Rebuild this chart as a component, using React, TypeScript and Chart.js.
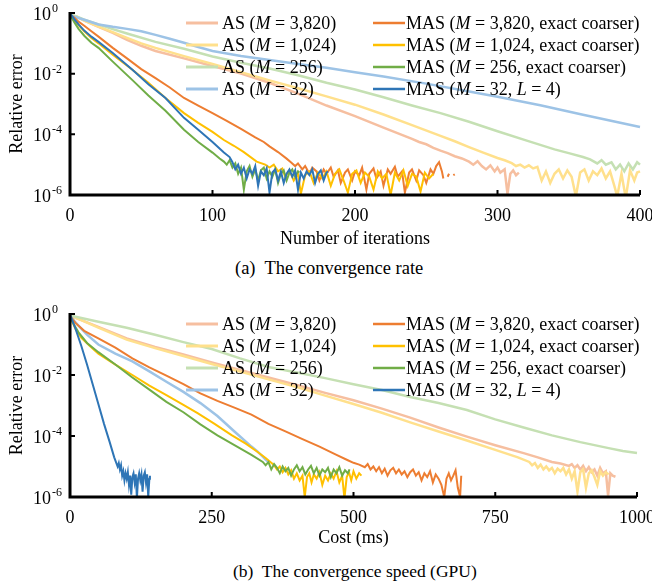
import React, { useEffect, useRef } from "react";
import { Chart, registerables } from "chart.js";

Chart.register(...registerables);

type Pt = [number, number | null];

const FONT = '"Liberation Serif", "Times New Roman", serif';

// Series names, AS column first then MAS column
const seriesLabels = [
  "AS (M = 3,820)",
  "AS (M = 1,024)",
  "AS (M = 256)",
  "AS (M = 32)",
  "MAS (M = 3,820, exact coarser)",
  "MAS (M = 1,024, exact coarser)",
  "MAS (M = 256, exact coarser)",
  "MAS (M = 32, L = 4)",
];
const seriesColors = ["#F6BFA0", "#FFE08C", "#C5E0B3", "#9DC3E6", "#ED7D31", "#FFC000", "#70AD47", "#2E75B6"];

const iterTicks = [0, 100, 200, 300, 400];
const costTicks = [0, 250, 500, 750, 1000];
const yTickValues = [1, 1e-2, 1e-4, 1e-6];
const yTickExponents = ["0", "-2", "-4", "-6"];

// ---- (a) relative error vs. number of iterations ----
const itAS3820: Pt[] = [[0,0.89],[5,0.74],[10,0.56],[20,0.35],[30,0.22],[40,0.13],[50,8.3e-2],[60,5.6e-2],[80,3.2e-2],[100,1.8e-2],[120,1.0e-2],[140,5.0e-3],[160,2.2e-3],[180,8.9e-4],[200,4.0e-4],[220,1.66e-4],[240,7.1e-5],[245,5.6e-5],[250,4.7e-5],[255,3.6e-5],[260,2.9e-5],[265,2.4e-5],[270,1.9e-5],[275,1.6e-5],[280,1.26e-5],[283,1.0e-5],[286,1.3e-5],[289,9e-6],[292,7e-6],[295,9.5e-6],[298,6e-6],[300,8e-6],[302,5.5e-6],[305,7e-6],[307,1.1e-6],[309,5e-6],[311,6.5e-6],[313,4.5e-6],[315,5.5e-6]];
const itAS1024: Pt[] = [[0,0.89],[5,0.74],[10,0.56],[20,0.355],[30,0.234],[40,0.151],[50,0.1],[60,7.1e-2],[80,3.8e-2],[100,2.1e-2],[120,1.12e-2],[140,6.0e-3],[160,3.3e-3],[180,1.78e-3],[200,9.5e-4],[220,4.5e-4],[240,2.0e-4],[260,8.9e-5],[270,5.9e-5],[280,3.8e-5],[290,2.5e-5],[300,1.66e-5],[305,1.4e-5],[310,1.12e-5],[313,9e-6],[316,1.0e-5],[319,8e-6],[322,9.5e-6],[325,7.5e-6],[328,8.5e-6],[331,3e-6],[334,6e-6],[337,2.5e-6],[340,5e-6],[343,7e-6],[346,3.5e-6],[349,6.5e-6],[352,4e-6],[355,9e-7],[358,5.5e-6],[361,7e-6],[364,3e-6],[367,6e-6],[370,4.5e-6],[373,7.5e-6],[376,3.5e-6],[379,6e-6],[382,2e-6],[384,9e-7],[387,5e-6],[390,8e-7],[393,6.5e-6],[396,3e-6],[398,5.5e-6],[400,6e-6]];
const itAS256: Pt[] = [[0,0.89],[5,0.76],[10,0.6],[20,0.42],[30,0.295],[40,0.21],[60,0.112],[80,6.6e-2],[100,3.7e-2],[120,2.3e-2],[140,1.48e-2],[160,8.9e-3],[180,5.0e-3],[200,3.0e-3],[220,1.66e-3],[240,8.9e-4],[260,5.0e-4],[280,2.6e-4],[300,1.26e-4],[320,6.3e-5],[340,3.2e-5],[350,2.4e-5],[360,1.78e-5],[365,1.5e-5],[370,1.1e-5],[373,1.4e-5],[376,1.0e-5],[380,1.2e-5],[383,7e-6],[386,1.0e-5],[389,6e-6],[392,1.1e-5],[395,7e-6],[398,1.2e-5],[400,1.0e-5]];
const itAS32: Pt[] = [[0,0.83],[10,0.6],[20,0.42],[30,0.35],[40,0.3],[50,0.25],[60,0.19],[70,0.141],[80,0.105],[90,7.6e-2],[100,5.6e-2],[110,4.6e-2],[120,3.8e-2],[140,2.8e-2],[160,2.1e-2],[180,1.58e-2],[200,1.12e-2],[220,8.1e-3],[250,4.7e-3],[280,2.6e-3],[300,1.74e-3],[330,9.1e-4],[360,4.4e-4],[400,1.74e-4]];
const itMAS3820: Pt[] = [[0,0.89],[3,0.71],[6,0.52],[10,0.38],[15,0.25],[20,0.166],[30,7.1e-2],[40,3.2e-2],[50,1.41e-2],[60,7.1e-3],[70,3.5e-3],[80,1.58e-3],[90,8.9e-4],[100,5.0e-4],[110,2.8e-4],[120,1.51e-4],[130,7.9e-5],[136,5.6e-5],[140,4.0e-5],[146,2.6e-5],[152,1.58e-5],[155,1.2e-5],[158,9e-6],[160,1.1e-5],[163,7e-6],[165,9e-6],[168,5e-6],[170,8e-6],[173,6e-6],[175,3e-6],[178,7e-6],[180,5e-6],[183,8e-6],[185,4e-6],[188,6.5e-6],[190,2.5e-6],[193,5.5e-6],[195,7e-6],[198,3e-6],[200,6e-6],[203,4.5e-6],[205,8e-6],[208,1.5e-6],[210,5e-6],[213,7.5e-6],[215,3.5e-6],[218,6e-6],[220,2e-6],[223,7e-6],[225,5e-6],[228,8.5e-6],[230,4e-6],[233,6e-6],[235,1.2e-6],[238,5.5e-6],[240,7e-6],[243,3e-6],[245,6.5e-6],[248,4.5e-6],[250,2.5e-6],[253,7e-6],[255,5e-6],[257,9e-6],[259,1.2e-5],[261,6e-6],[262,3.5e-6],[263,null],[265,4e-6],[266,5e-6],[267,null],[269,4.5e-6],[270,4.8e-6]];
const itMAS1024: Pt[] = [[0,0.89],[3,0.6],[6,0.4],[10,0.25],[15,0.151],[20,0.1],[30,4.2e-2],[44,1.32e-2],[55,5.0e-3],[67,1.58e-3],[80,5.0e-4],[90,2.4e-4],[100,1.2e-4],[108,6.5e-5],[115,4.2e-5],[122,2.6e-5],[131,1.26e-5],[137,1.0e-5],[140,8e-6],[143,1.0e-5],[146,6e-6],[149,7.5e-6],[151,4e-6],[154,6.5e-6],[157,3e-6],[160,5e-6],[162,1.1e-6],[165,4.5e-6],[168,6e-6],[171,2.5e-6],[174,5.5e-6],[177,3.5e-6],[180,6e-6],[183,2e-6],[186,5e-6],[189,7e-6],[192,3e-6],[195,1.2e-6],[198,5e-6],[201,6.5e-6],[204,2.5e-6],[207,5.5e-6],[210,4e-6],[213,1.5e-6],[216,6e-6],[219,3.5e-6],[222,5e-6],[225,1e-6],[228,5.5e-6],[231,3e-6],[234,6.5e-6],[237,2e-6],[240,5e-6],[243,4e-6],[246,1.3e-6],[249,5.5e-6],[252,3.5e-6],[255,5e-6]];
const itMAS256: Pt[] = [[0,0.89],[3,0.5],[6,0.3],[10,0.178],[15,0.105],[20,7.1e-2],[30,2.5e-2],[44,6.0e-3],[55,1.9e-3],[67,6.0e-4],[80,1.41e-4],[90,5.6e-5],[100,2.5e-5],[105,1.6e-5],[108,1.26e-5],[110,1.0e-5],[112,1.4e-5],[114,8e-6],[116,1.1e-5],[118,5e-6],[120,8e-6],[122,1.5e-6],[124,6e-6],[126,9e-6],[128,4e-6],[130,7e-6],[132,3e-6],[134,6.5e-6],[136,8e-6],[138,3.5e-6],[140,6e-6],[142,4e-6],[144,7e-6],[146,2.5e-6],[148,5e-6],[150,6.5e-6],[152,3e-6],[154,5.5e-6],[156,7e-6],[158,4e-6],[160,6e-6],[161,5.5e-6]];
const itMAS32: Pt[] = [[0,1.0],[3,0.63],[6,0.42],[10,0.263],[15,0.166],[20,0.112],[30,4.8e-2],[44,1.32e-2],[55,4.5e-3],[67,1.58e-3],[80,3.5e-4],[90,1.41e-4],[100,5.6e-5],[108,2.5e-5],[112,1.78e-5],[114,1.2e-5],[116,7e-6],[118,1.0e-5],[120,5e-6],[122,8e-6],[124,3.5e-6],[126,7e-6],[128,5e-6],[130,9e-6],[132,2e-6],[134,6e-6],[136,4.5e-6],[138,7.5e-6],[140,1.2e-6],[142,5.5e-6],[144,7e-6],[146,3e-6],[148,6e-6],[150,2.5e-6],[152,5e-6],[154,7e-6],[156,4e-6],[158,6.5e-6],[160,1.5e-6],[162,5.5e-6],[164,3.5e-6],[166,6e-6],[168,4.5e-6],[170,7e-6],[172,2.5e-6],[174,5e-6],[176,6.5e-6],[178,3e-6],[180,5.5e-6],[181,6e-6]];

// ---- (b) relative error vs. GPU cost in ms ----
const msAS3820: Pt[] = [[0,0.89],[20,0.63],[50,0.38],[100,0.158],[150,8.3e-2],[200,4.7e-2],[250,2.6e-2],[300,1.45e-2],[350,8.3e-3],[400,4.7e-3],[450,2.6e-3],[500,1.48e-3],[550,7.9e-4],[600,4.0e-4],[650,1.9e-4],[700,9.5e-5],[750,5.0e-5],[800,2.75e-5],[825,2.0e-5],[850,1.41e-5],[865,1.25e-5],[880,1.05e-5],[885,1.2e-5],[890,9e-6],[895,1.1e-5],[900,8e-6],[905,1.05e-5],[910,7e-6],[915,9.5e-6],[920,6.5e-6],[925,8e-6],[930,5e-6],[935,9e-6],[940,6e-6],[945,7e-6],[949,1.1e-6],[953,6e-6],[957,5e-6],[962,4.6e-6]];
const msAS1024: Pt[] = [[0,0.89],[20,0.63],[50,0.355],[100,0.145],[150,7.6e-2],[200,4.2e-2],[250,2.3e-2],[300,1.29e-2],[350,7.2e-3],[400,4.0e-3],[450,2.1e-3],[500,1.12e-3],[550,5.8e-4],[600,2.8e-4],[650,1.41e-4],[700,7.1e-5],[750,3.5e-5],[790,2.0e-5],[810,1.41e-5],[815,1.1e-5],[820,1.3e-5],[825,9e-6],[830,1.15e-5],[835,8e-6],[840,1.0e-5],[845,7.5e-6],[850,9e-6],[855,6e-6],[860,8.5e-6],[865,7e-6],[870,9e-6],[875,5.5e-6],[880,8e-6],[885,4e-6],[890,7e-6],[895,1.5e-6],[900,6.5e-6],[905,8e-6],[910,2e-6],[915,6e-6],[920,7.5e-6],[925,4.5e-6],[930,2.5e-6],[935,7e-6],[940,5e-6],[945,6.5e-6],[950,5.5e-6]];
const msAS256: Pt[] = [[0,0.89],[50,0.56],[100,0.355],[150,0.21],[200,0.12],[250,7.1e-2],[300,3.5e-2],[350,1.82e-2],[400,1.2e-2],[450,7.9e-3],[500,5.0e-3],[550,3.2e-3],[600,1.9e-3],[650,1.2e-3],[700,7.1e-4],[750,3.5e-4],[800,1.9e-4],[850,1.05e-4],[900,6.3e-5],[950,4.0e-5],[975,3.2e-5],[1000,2.75e-5]];
const msAS32: Pt[] = [[0,0.89],[10,0.52],[20,0.33],[30,0.21],[50,0.1],[80,5.0e-2],[110,2.8e-2],[140,1.32e-2],[170,6.0e-3],[200,2.8e-3],[230,1.2e-3],[260,4.5e-4],[290,1.41e-4],[320,4.5e-5],[330,3.2e-5],[340,2.1e-5],[345,1.7e-5],[350,1.41e-5]];
const msMAS3820: Pt[] = [[0,0.89],[5,0.66],[10,0.5],[25,0.28],[50,0.158],[80,7.9e-2],[110,3.5e-2],[140,1.78e-2],[170,9.5e-3],[200,5.0e-3],[230,2.5e-3],[260,1.41e-3],[290,8.5e-4],[320,5.0e-4],[350,2.5e-4],[380,1.41e-4],[410,7.9e-5],[440,4.5e-5],[470,2.4e-5],[490,1.6e-5],[500,1.32e-5],[510,1.15e-5],[520,9.5e-6],[525,1.2e-5],[530,8e-6],[535,1.0e-5],[540,7e-6],[545,9.5e-6],[550,6e-6],[555,8.5e-6],[560,5e-6],[565,7.5e-6],[570,9e-6],[575,6e-6],[580,8e-6],[585,5.5e-6],[590,7e-6],[595,4.5e-6],[600,6.5e-6],[605,8e-6],[610,5e-6],[615,6.5e-6],[620,3.5e-6],[625,6e-6],[630,4.5e-6],[635,7e-6],[640,3e-6],[645,5.5e-6],[650,4e-6],[655,2.5e-6],[660,1e-6],[664,4e-6],[668,6e-6],[672,3.5e-6],[676,5e-6],[680,7.5e-6],[684,2e-6],[688,1e-6],[690,5e-6]];
const msMAS1024: Pt[] = [[0,0.89],[5,0.5],[10,0.316],[20,0.166],[35,8.9e-2],[50,5.0e-2],[80,2.2e-2],[110,1.0e-2],[140,4.5e-3],[170,2.2e-3],[200,1.05e-3],[225,5.6e-4],[255,2.5e-4],[285,1.07e-4],[310,5.6e-5],[331,3.0e-5],[345,1.9e-5],[355,1.32e-5],[360,1.1e-5],[365,8e-6],[370,1.0e-5],[375,6.5e-6],[380,9e-6],[385,5.5e-6],[390,7.5e-6],[395,4e-6],[400,6e-6],[405,3.5e-6],[410,5e-6],[414,1e-6],[418,4.5e-6],[422,6e-6],[426,3e-6],[430,5.5e-6],[435,4e-6],[440,6.5e-6],[445,2.5e-6],[450,5e-6],[455,3.5e-6],[460,6e-6],[465,4e-6],[470,7e-6],[475,3e-6],[480,5e-6],[484,9e-7],[488,4.5e-6],[492,6.5e-6],[496,3.5e-6],[500,7e-6],[505,4e-6],[510,6e-6],[514,5e-6]];
const msMAS256: Pt[] = [[0,0.89],[5,0.52],[15,0.25],[30,0.112],[50,5.6e-2],[80,2.2e-2],[110,8.3e-3],[140,3.3e-3],[170,1.32e-3],[200,6.0e-4],[230,2.4e-4],[260,1.05e-4],[290,5.0e-5],[320,2.4e-5],[340,1.41e-5],[345,1.1e-5],[350,1.4e-5],[355,8e-6],[360,1.2e-5],[365,9e-6],[370,6e-6],[375,1.0e-5],[380,7e-6],[385,9e-6],[390,5e-6],[395,8e-6],[400,1.1e-5],[405,7e-6],[410,9.5e-6],[415,5.5e-6],[420,8e-6],[425,1.05e-5],[430,6e-6],[435,9e-6],[440,5e-6],[445,8e-6],[450,6.5e-6],[455,9e-6],[460,4.5e-6],[465,8e-6],[470,6e-6],[475,9.5e-6],[480,5e-6],[485,7.5e-6],[490,6e-6],[493,8e-6]];
const msMAS32: Pt[] = [[0,0.95],[5,0.56],[10,0.316],[20,8.9e-2],[30,2.2e-2],[40,5.0e-3],[50,1.12e-3],[60,2.5e-4],[70,6.3e-5],[78,2.0e-5],[84,1.0e-5],[86,1.3e-5],[88,8e-6],[90,1.1e-5],[92,5e-6],[94,7e-6],[96,3.5e-6],[98,6e-6],[100,4e-6],[102,6.5e-6],[104,2.5e-6],[106,5e-6],[108,1.2e-6],[110,4.5e-6],[112,6e-6],[114,3e-6],[116,5.5e-6],[118,9e-7],[120,4e-6],[122,6e-6],[124,3.5e-6],[126,5.5e-6],[128,1.5e-6],[130,5e-6],[132,6.5e-6],[134,3e-6],[136,5.5e-6],[138,1e-6],[140,4e-6],[141,5e-6]];

const iterSeries = [itAS3820, itAS1024, itAS256, itAS32, itMAS3820, itMAS1024, itMAS256, itMAS32];
const costSeries = [msAS3820, msAS1024, msAS256, msAS32, msMAS3820, msMAS1024, msMAS256, msMAS32];

// Writes a legend label, setting the symbols M and L in italics.
function drawRich(ctx: CanvasRenderingContext2D, text: string, x: number, y: number) {
  const parts = text.split(/([ML])(?= =)/);
  let cx = x;
  parts.forEach((p, i) => {
    ctx.font = (i % 2 ? "italic " : "") + "18px " + FONT;
    ctx.fillText(p, cx, y);
    cx += ctx.measureText(p).width;
  });
}

// Draws the axes, inner tick marks, tick labels with superscript exponents,
// axis titles and the two-column legend inside the plot area.
const figurePlugin = {
  id: "figure",
  afterDatasetsDraw(chart: any, _args: any, opts: any) {
    const ctx: CanvasRenderingContext2D = chart.ctx;
    const a = chart.chartArea;
    const xs = chart.scales.x;
    const ys = chart.scales.y;
    ctx.save();

    // axis lines
    ctx.strokeStyle = "#000";
    ctx.lineWidth = 3;
    ctx.beginPath();
    ctx.moveTo(a.left, a.top - 1);
    ctx.lineTo(a.left, a.bottom);
    ctx.lineTo(a.right, a.bottom);
    ctx.stroke();

    // inner tick marks
    ctx.lineWidth = 2;
    ctx.beginPath();
    for (const v of opts.xTicks) {
      const x = xs.getPixelForValue(v);
      ctx.moveTo(x, a.bottom);
      ctx.lineTo(x, a.bottom - 5);
    }
    for (const v of yTickValues) {
      const y = ys.getPixelForValue(v);
      ctx.moveTo(a.left, y);
      ctx.lineTo(a.left + 5, y);
    }
    ctx.stroke();

    ctx.fillStyle = "#000";
    ctx.textBaseline = "middle";

    // x tick labels
    ctx.font = "18px " + FONT;
    ctx.textAlign = "center";
    for (const v of opts.xTicks) {
      ctx.fillText(String(v), xs.getPixelForValue(v), a.bottom + 21);
    }
    // x title
    ctx.fillText(opts.xTitle, (a.left + a.right) / 2, a.bottom + opts.titleGap);

    // y tick labels: 10 with a raised exponent
    ctx.textAlign = "left";
    yTickValues.forEach((v, i) => {
      const y = ys.getPixelForValue(v);
      ctx.font = "18px " + FONT;
      ctx.fillText("10", 33, y + 2);
      const w = ctx.measureText("10").width;
      ctx.font = "12px " + FONT;
      ctx.fillText(yTickExponents[i], 33 + w + 1, y - 4);
    });

    // y title
    ctx.save();
    ctx.font = "18px " + FONT;
    ctx.textAlign = "center";
    ctx.translate(17.5, (a.top + a.bottom) / 2);
    ctx.rotate(-Math.PI / 2);
    ctx.fillText("Relative error", 0, 0);
    ctx.restore();

    // legend
    chart.data.datasets.forEach((ds: any, i: number) => {
      const col = i < 4 ? 0 : 1;
      const row = i % 4;
      const x0 = a.left + (col ? 303 : 116);
      const x1 = x0 + 32;
      const y = a.top + 10 + row * 22;
      ctx.strokeStyle = ds.borderColor;
      ctx.lineWidth = ds.borderWidth + 0.5;
      ctx.beginPath();
      ctx.moveTo(x0, y);
      ctx.lineTo(x1, y);
      ctx.stroke();
      ctx.fillStyle = "#000";
      ctx.textAlign = "left";
      drawRich(ctx, ds.label, col ? x1 + 1 : x1 + 4, y + 1);
    });

    ctx.restore();
  },
};

type PanelProps = {
  series: Pt[][];
  xMax: number;
  xTicks: number[];
  xTitle: string;
  top: number;
  height: number;
  padTop: number;
  padRight: number;
  xAxisHeight: number;
  titleGap: number;
};

function Panel(p: PanelProps) {
  const ref = useRef<HTMLCanvasElement>(null);
  useEffect(() => {
    if (!ref.current) return;
    const chart = new Chart(ref.current, {
      type: "line",
      data: {
        datasets: p.series.map((pts, i) => ({
          label: seriesLabels[i],
          data: pts.map(([x, y]) => ({ x, y })),
          borderColor: seriesColors[i],
          borderWidth: i < 4 ? 2.5 : 2,
          pointRadius: 0,
          tension: 0,
          spanGaps: false,
          // darker MAS curves sit above the pale AS curves; M = 32 on top
          order: 7 - i,
          clip: { left: 0, top: 3, right: 3, bottom: 0 },
        })),
      },
      options: {
        responsive: false,
        animation: false,
        devicePixelRatio: 1,
        events: [],
        layout: { padding: { top: p.padTop, right: p.padRight, left: 0, bottom: 0 } },
        plugins: {
          legend: { display: false },
          tooltip: { enabled: false },
          figure: { xTicks: p.xTicks, xTitle: p.xTitle, titleGap: p.titleGap },
        } as any,
        scales: {
          x: {
            type: "linear",
            min: 0,
            max: p.xMax,
            ticks: { display: false },
            grid: { display: false },
            border: { display: false },
            afterFit: (s: any) => { s.height = p.xAxisHeight; },
          },
          y: {
            type: "logarithmic",
            min: 1e-6,
            max: 1,
            ticks: { display: false },
            grid: { display: false },
            border: { display: false },
            afterFit: (s: any) => { s.width = 70; },
          },
        },
      } as any,
      plugins: [figurePlugin as any],
    });
    return () => chart.destroy();
  }, []);
  return (
    <canvas
      ref={ref}
      width={652}
      height={p.height}
      style={{ position: "absolute", left: 0, top: p.top, width: 652, height: p.height }}
    />
  );
}

const captionStyle: React.CSSProperties = {
  position: "absolute",
  fontFamily: FONT,
  lineHeight: "20px",
  whiteSpace: "pre",
  color: "#000",
};

export default function App() {
  return (
    <div style={{ position: "absolute", left: 0, top: 0, width: 652, height: 588, background: "#fff", overflow: "hidden" }}>
      <Panel series={iterSeries} xMax={400} xTicks={iterTicks} xTitle="Number of iterations"
        top={0} height={255} padTop={13} padRight={12} xAxisHeight={60} titleGap={44} />
      <div style={{ ...captionStyle, fontSize: 18.5, left: 235, top: 258 }}>(a)  The convergence rate</div>
      <Panel series={costSeries} xMax={1000} xTicks={costTicks} xTitle="Cost (ms)"
        top={300} height={260} padTop={14} padRight={15} xAxisHeight={63} titleGap={41} />
      <div style={{ ...captionStyle, fontSize: 17.5, left: 233, top: 561 }}>(b)  The convergence speed (GPU)</div>
    </div>
  );
}
